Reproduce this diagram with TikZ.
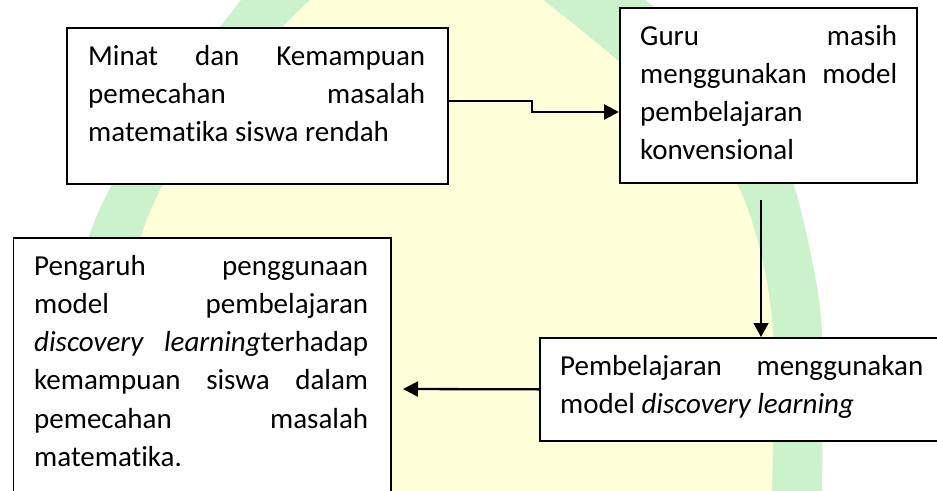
\documentclass[tikz,border=0pt]{standalone}
\usepackage{fontspec}
\setmainfont{Carlito}[Ligatures=NoCommon]
\usetikzlibrary{arrows.meta}
\definecolor{wmgreen}{RGB}{204,242,204}
\definecolor{wmyellow}{RGB}{255,255,218}
\tikzset{
  boxframe/.style={draw=black, line width=1.7pt, fill=white, inner sep=0pt, anchor=north west},
  boxtext/.style={inner sep=0pt, anchor=base west, font=\fontsize{29}{38.3}\selectfont},
  conn/.style={line width=2.3pt, -{Triangle[length=15pt,width=15pt]}},
  connthin/.style={line width=1.8pt, -{Triangle[length=14pt,width=15pt]}}
}
\begin{document}
\begin{tikzpicture}[x=1pt,y=-1pt]
\clip (0,0) rectangle (937,490);
\fill[white] (0,0) rectangle (937,490);
% watermark
\fill[wmgreen] plot[smooth] coordinates {(60,495) (72,400) (88,240) (150,120) (210,40) (245,-5)}
  -- (640,-5) -- plot[smooth] coordinates {(640,-5) (700,50) (760,120) (792,180) (812,260) (822,335) (822,495)} -- cycle;
\fill[wmyellow] plot[smooth] coordinates {(115,495) (122,400) (140,240) (200,120) (270,40) (315,-5)}
  -- (537,-5) -- plot[smooth] coordinates {(537,-5) (617,60) (690,130) (735,180) (760,250) (773,335) (772,495)} -- cycle;
% boxes
\node[boxframe, minimum width=381pt, minimum height=156pt] (b1) at (66,27) {};
\node[boxframe, minimum width=297pt, minimum height=175pt] (b2) at (619,7) {};
\node[boxframe, minimum width=411pt, minimum height=103pt] (b3) at (539,337) {};
\node[boxframe, minimum width=377.5pt, minimum height=270pt] (b4) at (12.5,237) {};
% texts
\node[boxtext] (t1) at (88,65) {\parbox[t]{337pt}{Minat\hfill dan\hfill Kemampuan\\ pemecahan\hfill masalah\\ matematika siswa rendah}};
\node[boxtext] (t2) at (640,45) {\parbox[t]{257pt}{Guru\hfill masih\\ menggunakan\hfill model\\ pembelajaran\\ konvensional}};
\node[boxtext] (t3) at (560,375) {\parbox[t]{363pt}{Pembelajaran\hfill menggunakan\\ model \textit{discovery learning}}};
\node[boxtext] (t4) at (34,275) {\parbox[t]{334pt}{Pengaruh\hfill penggunaan\\ model\hfill pembelajaran\\ \textit{discovery}\hfill\textit{learning}terhadap\\ kemampuan\hfill siswa\hfill dalam\\ pemecahan\hfill masalah\\ matematika.}};
% connectors
\draw[conn] (b1.east |- 0,101) -- (532,101) -- (532,112) -- (b2.west |- 0,112);
\coordinate (a2s) at (761,200);
\draw[connthin] (a2s) -- (a2s |- b3.north);
\coordinate (a3e) at (403,389);
\draw[conn] (b3.west) -- (a3e);
\end{tikzpicture}
\end{document}
